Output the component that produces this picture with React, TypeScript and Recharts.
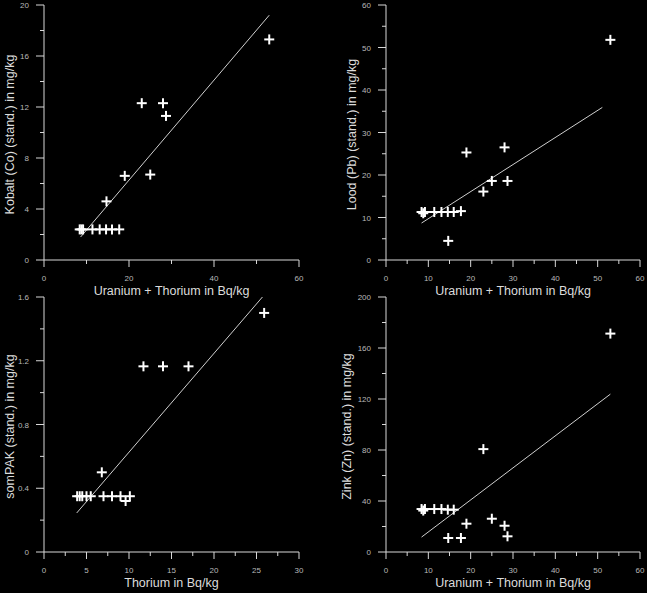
import { ScatterChart, Scatter, XAxis, YAxis, ReferenceLine, Label } from 'recharts'

// shared x for the three U+Th panels
const uThX = [8.4, 8.8, 9.2, 11.4, 13.1, 14.6, 14.7, 16.0, 17.7, 19.0, 23.0, 25.0, 28.0, 28.7, 53.0]
const kobalt = [2.4, 2.4, 2.4, 2.4, 2.4, 2.4, 4.6, 2.4, 2.4, 6.6, 12.3, 6.7, 12.3, 11.3, 17.3]
const lood = [11.3, 11.0, 11.3, 11.3, 11.3, 11.3, 4.5, 11.3, 11.5, 25.3, 16.1, 18.6, 26.5, 18.6, 51.8]
const zink = [33.7, 32.5, 33.7, 33.7, 33.7, 33.2, 11.0, 33.2, 11.0, 22.2, 80.7, 26.1, 20.6, 12.3, 171.3]

const thoriumX = [3.9, 4.2, 4.5, 5.0, 5.5, 6.8, 7.0, 8.0, 9.0, 9.6, 10.1, 11.7, 14.0, 17.0, 25.9]
const sompak = [0.35, 0.35, 0.35, 0.35, 0.35, 0.5, 0.35, 0.35, 0.35, 0.32, 0.35, 1.165, 1.165, 1.165, 1.5]

// regression line end points
const kobaltFit = [{ x: 8.6, y: 1.8 }, { x: 53.0, y: 19.2 }]
const loodFit = [{ x: 8.4, y: 8.7 }, { x: 51.1, y: 35.9 }]
const sompakFit = [{ x: 3.85, y: 0.245 }, { x: 25.7, y: 1.6 }]
const zinkFit = [{ x: 8.4, y: 11.7 }, { x: 53.0, y: 123.8 }]

const ticks0to60by10 = [0, 10, 20, 30, 40, 50, 60]
const ticks0to60by5 = [0, 5, 10, 15, 20, 25, 30, 35, 40, 45, 50, 55, 60]
const ticks0to30 = [0, 2.5, 5, 7.5, 10, 12.5, 15, 17.5, 20, 22.5, 25, 27.5, 30]
const ticksKobalt = [0, 2, 4, 6, 8, 10, 12, 14, 16, 18, 20]
const ticksLood = [0, 5, 10, 15, 20, 25, 30, 35, 40, 45, 50, 55, 60]
const ticksSompak = [0, 0.2, 0.4, 0.6, 0.8, 1.0, 1.2, 1.4, 1.6]
const ticksZink = [0, 20, 40, 60, 80, 100, 120, 140, 160, 180, 200]

const FONT = 'Liberation Sans, Arial, sans-serif'
const AXIS = '#d8d8d8'
const TICK_TEXT = '#b8b8b8'

const isMajor = (v: number, step: number) => Math.abs(v / step - Math.round(v / step)) < 1e-6

function xTick(step: number) {
  return (p: any) => {
    const v = p.payload.value
    const major = isMajor(v, step)
    return (
      <g>
        <line x1={p.x} x2={p.x} y1={p.y} y2={p.y + (major ? 7 : 4)} stroke={AXIS} strokeWidth={1} />
        {major && (
          <text x={p.x} y={p.y + 21} textAnchor="middle" fontSize={8} fill={TICK_TEXT} fontFamily={FONT}>
            {String(v)}
          </text>
        )}
      </g>
    )
  }
}

function yTick(step: number) {
  return (p: any) => {
    const v = p.payload.value
    const major = isMajor(v, step)
    return (
      <g>
        <line x1={p.x - (major ? 8 : 4)} x2={p.x} y1={p.y} y2={p.y} stroke={AXIS} strokeWidth={1} />
        {major && (
          <text x={p.x - 15} y={p.y + 3} textAnchor="end" fontSize={8} fill={TICK_TEXT} fontFamily={FONT}>
            {String(Math.round(v * 10) / 10)}
          </text>
        )}
      </g>
    )
  }
}

const Cross = (p: any) => {
  const { cx, cy } = p
  return (
    <g>
      <line x1={cx - 5} x2={cx + 5} y1={cy} y2={cy} stroke="#fff" strokeWidth={2} />
      <line x1={cx} x2={cx} y1={cy - 5} y2={cy + 5} stroke="#fff" strokeWidth={2} />
    </g>
  )
}

interface PanelProps {
  left: number
  top: number
  width: number
  height: number
  yAxisWidth: number
  xAxisHeight: number
  marginRight: number
  xs: number[]
  ys: number[]
  fit: { x: number; y: number }[]
  xTicks: number[]
  xStep: number
  yTicks: number[]
  yStep: number
  xTitle: string
  yTitle: string
  yTitleX: number
}

function Panel(props: PanelProps) {
  const data = props.xs.map((x, i) => ({ x, y: props.ys[i] }))
  const xDomain = [props.xTicks[0], props.xTicks[props.xTicks.length - 1]]
  const yDomain = [props.yTicks[0], props.yTicks[props.yTicks.length - 1]]
  return (
    <div style={{ position: 'absolute', left: props.left, top: props.top }}>
      <ScatterChart
        width={props.width}
        height={props.height}
        margin={{ top: 5, right: props.marginRight, bottom: 0, left: 0 }}
      >
        <XAxis
          type="number"
          dataKey="x"
          domain={xDomain}
          ticks={props.xTicks}
          interval={0}
          height={props.xAxisHeight}
          tickSize={0}
          tickMargin={0}
          tickLine={false}
          axisLine={{ stroke: AXIS }}
          tick={xTick(props.xStep)}
          allowDataOverflow
        >
          <Label
            content={(lp: any) => {
              const vb = lp.viewBox
              return (
                <text x={vb.x + vb.width / 2} y={vb.y + 35} textAnchor="middle" fontSize={12.5} fill="#dcdcdc" fontFamily={FONT}>
                  {props.xTitle}
                </text>
              )
            }}
          />
        </XAxis>
        <YAxis
          type="number"
          dataKey="y"
          domain={yDomain}
          ticks={props.yTicks}
          interval={0}
          width={props.yAxisWidth}
          tickSize={0}
          tickMargin={0}
          tickLine={false}
          axisLine={{ stroke: AXIS }}
          tick={yTick(props.yStep)}
          allowDataOverflow
        >
          <Label
            content={(lp: any) => {
              const vb = lp.viewBox
              const cy = vb.y + vb.height / 2 + 2
              return (
                <text
                  x={props.yTitleX}
                  y={cy}
                  textAnchor="middle"
                  dominantBaseline="central"
                  transform={`rotate(-90 ${props.yTitleX} ${cy})`}
                  fontSize={12.5}
                  fill="#dcdcdc"
                  fontFamily={FONT}
                >
                  {props.yTitle}
                </text>
              )
            }}
          />
        </YAxis>
        <ReferenceLine segment={props.fit} stroke="#cfcfcf" strokeWidth={1} ifOverflow="visible" />
        <Scatter data={data} shape={Cross} isAnimationActive={false} />
      </ScatterChart>
    </div>
  )
}

export default function App() {
  return (
    <div style={{ position: 'absolute', left: 0, top: 0, width: 647, height: 593, background: '#000', overflow: 'hidden' }}>
      <Panel
        left={0}
        top={292}
        width={324}
        height={301}
        yAxisWidth={44}
        xAxisHeight={41}
        marginRight={25}
        xs={thoriumX}
        ys={sompak}
        fit={sompakFit}
        xTicks={ticks0to30}
        xStep={5}
        yTicks={ticksSompak}
        yStep={0.4}
        xTitle="Thorium in Bq/kg"
        yTitle="somPAK (stand.) in mg/kg"
        yTitleX={10}
      />
      <Panel
        left={324}
        top={292}
        width={323}
        height={301}
        yAxisWidth={62}
        xAxisHeight={41}
        marginRight={7}
        xs={uThX}
        ys={zink}
        fit={zinkFit}
        xTicks={ticks0to60by5}
        xStep={10}
        yTicks={ticksZink}
        yStep={40}
        xTitle="Uranium + Thorium in Bq/kg"
        yTitle="Zink (Zn) (stand.) in mg/kg"
        yTitleX={23}
      />
      <Panel
        left={0}
        top={0}
        width={324}
        height={310}
        yAxisWidth={44}
        xAxisHeight={50}
        marginRight={25}
        xs={uThX}
        ys={kobalt}
        fit={kobaltFit}
        xTicks={ticks0to60by10}
        xStep={20}
        yTicks={ticksKobalt}
        yStep={4}
        xTitle="Uranium + Thorium in Bq/kg"
        yTitle="Kobalt (Co) (stand.) in mg/kg"
        yTitleX={10}
      />
      <Panel
        left={324}
        top={0}
        width={323}
        height={310}
        yAxisWidth={62}
        xAxisHeight={50}
        marginRight={7}
        xs={uThX}
        ys={lood}
        fit={loodFit}
        xTicks={ticks0to60by5}
        xStep={10}
        yTicks={ticksLood}
        yStep={10}
        xTitle="Uranium + Thorium in Bq/kg"
        yTitle="Lood (Pb) (stand.) in mg/kg"
        yTitleX={28}
      />
    </div>
  )
}
